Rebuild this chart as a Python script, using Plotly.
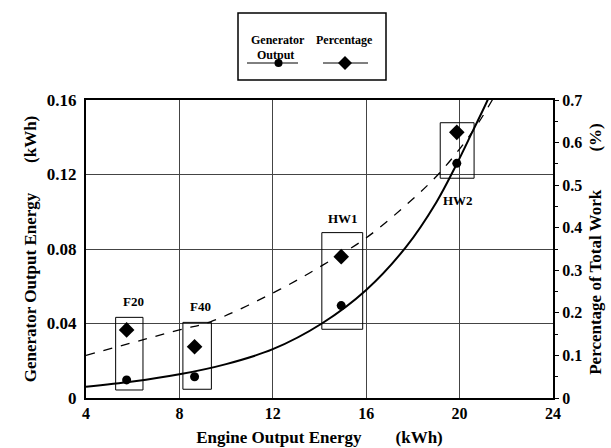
import plotly.graph_objects as go

# ---- data ----
groups = ["F20", "F40", "HW1", "HW2"]
engine_kwh = [5.74, 8.65, 14.93, 19.88]
generator_kwh = [0.0097, 0.0114, 0.0496, 0.126]
percentage = [0.160, 0.1205, 0.332, 0.624]

# trend lines
gen_fit_x = [4.0, 6.0, 8.0, 10.0, 12.0, 14.1, 16.0, 17.7, 19.0, 19.85, 20.55, 21.2, 21.6]
gen_fit_y = [0.0060, 0.0088, 0.0127, 0.0182, 0.0262, 0.0400, 0.0580, 0.0810, 0.1050, 0.1250, 0.1430, 0.1600, 0.1720]
pct_fit_x = [4.0, 8.0, 9.33, 12.3, 14.14, 15.97, 17.7, 19.13, 20.55, 21.4, 21.8]
pct_fit_y = [0.100, 0.160, 0.179, 0.255, 0.312, 0.375, 0.453, 0.528, 0.6255, 0.700, 0.740]

x_ticks = [4, 8, 12, 16, 20, 24]
y_ticks = [0, 0.04, 0.08, 0.12, 0.16]
y2_ticks = [0, 0.1, 0.2, 0.3, 0.4, 0.5, 0.6, 0.7]

# group boxes (x0, x1, y0, y1 on left axis) and label spots
boxes = [(5.27, 6.44, 0.0043, 0.0433), (8.15, 9.37, 0.0047, 0.0406),
         (14.10, 15.85, 0.0369, 0.0888), (19.17, 20.62, 0.118, 0.1478)]
label_pos = [(6.02, 0.0517), (8.9, 0.049), (15.0, 0.0965), (19.91, 0.1058)]

SERIF = "Liberation Serif"
W, H = 611, 448
ML, MR, MT, MB = 86, 58, 100, 50
PW, PH = W - ML - MR, H - MT - MB

def px(x):  # figure pixel -> paper (plot-area) fraction
    return (x - ML) / PW
def py(y):
    return (H - MB - y) / PH

fig = go.Figure()
fig.add_trace(go.Scatter(x=gen_fit_x, y=gen_fit_y, mode="lines", line=dict(color="black", width=2, shape="spline"),
                         showlegend=False, hoverinfo="skip"))
fig.add_trace(go.Scatter(x=pct_fit_x, y=pct_fit_y, mode="lines", yaxis="y2",
                         line=dict(color="black", width=1.3, dash="dash", shape="spline"),
                         showlegend=False, hoverinfo="skip"))
fig.add_trace(go.Scatter(x=engine_kwh, y=generator_kwh, mode="markers", name="Generator Output",
                         marker=dict(symbol="circle", size=9, color="black"), showlegend=False))
fig.add_trace(go.Scatter(x=engine_kwh, y=percentage, mode="markers", yaxis="y2", name="Percentage",
                         marker=dict(symbol="diamond", size=12, color="black"), showlegend=False))

shapes = []
for (x0, x1, y0, y1) in boxes:
    shapes.append(dict(type="rect", xref="x", yref="y", x0=x0, x1=x1, y0=y0, y1=y1,
                       line=dict(color="black", width=1)))
annotations = []
for g, (lx, ly) in zip(groups, label_pos):
    annotations.append(dict(x=lx, y=ly, xref="x", yref="y", text="<b>%s</b>" % g, showarrow=False,
                            font=dict(family=SERIF, size=13, color="black")))

# legend drawn by hand (box, titles, line samples)
shapes.append(dict(type="rect", xref="paper", yref="paper", x0=px(238), x1=px(386), y0=py(80), y1=py(13),
                   line=dict(color="black", width=1.5)))
shapes.append(dict(type="line", xref="paper", yref="paper", x0=px(247), x1=px(298), y0=py(63), y1=py(63),
                   line=dict(color="black", width=1)))
shapes.append(dict(type="line", xref="paper", yref="paper", x0=px(323), x1=px(368), y0=py(63), y1=py(63),
                   line=dict(color="black", width=1)))
shapes.append(dict(type="circle", xref="paper", yref="paper", x0=px(274.5), x1=px(282.5), y0=py(67), y1=py(59),
                   fillcolor="black", line=dict(color="black", width=0)))
shapes.append(dict(type="path", xref="paper", yref="paper",
                   path="M %f,%f L %f,%f L %f,%f L %f,%f Z" % (px(345), py(56), px(352), py(63), px(345), py(70), px(338), py(63)),
                   fillcolor="black", line=dict(color="black", width=0)))
legfont = dict(family=SERIF, size=12, color="black")
annotations.append(dict(x=px(278), y=py(31), xref="paper", yref="paper", text="<b>Generator</b>", showarrow=False, font=legfont))
annotations.append(dict(x=px(275), y=py(46), xref="paper", yref="paper", text="<b>Output</b>", showarrow=False, font=legfont))
annotations.append(dict(x=px(344), y=py(31), xref="paper", yref="paper", text="<b>Percentage</b>", showarrow=False, font=legfont))

tickfont = dict(family=SERIF, size=17, color="black", weight="bold")
tickfont2 = dict(family=SERIF, size=16, color="black", weight="bold")
titlefont = dict(family=SERIF, size=17, color="black", weight="bold")
NB = "\u00a0"

fig.update_layout(
    width=W, height=H,
    margin=dict(l=ML, r=MR, t=MT, b=MB),
    paper_bgcolor="white", plot_bgcolor="white",
    showlegend=False,
    shapes=shapes, annotations=annotations,
    xaxis=dict(range=[4, 24], tickvals=x_ticks, ticktext=[str(v) for v in x_ticks],
               showgrid=True, gridcolor="#444", gridwidth=1, automargin=False,
               showline=True, linecolor="black", linewidth=2, mirror=True,
               ticks="", tickfont=tickfont2, zeroline=False,
               title=dict(text="Engine Output Energy" + NB * 8 + "(kWh)", font=titlefont, standoff=10)),
    yaxis=dict(range=[0, 0.16], tickvals=y_ticks, ticktext=["0", "0.04", "0.08", "0.12", "0.16"],
               showgrid=True, gridcolor="#444", gridwidth=1, automargin=False,
               showline=True, linecolor="black", linewidth=2, mirror=True,
               ticks="", tickfont=tickfont, zeroline=False, ticklabelstandoff=4,
               title=dict(text="Generator Output Energy" + NB * 7 + "(kWh)", font=titlefont, standoff=6)),
    yaxis2=dict(range=[0, 0.7], tickvals=y2_ticks, ticktext=["0", "0.1", "0.2", "0.3", "0.4", "0.5", "0.6", "0.7"],
                overlaying="y", side="right", showgrid=False, zeroline=False, automargin=False,
                showline=True, linecolor="black", linewidth=2,
                ticks="outside", ticklen=4, tickcolor="black", tickwidth=1,
                minor=dict(tickvals=[0.05, 0.15, 0.25, 0.35, 0.45, 0.55, 0.65], ticks="outside", ticklen=3, tickcolor="black"),
                tickfont=tickfont2,
                title=dict(text="Percentage of Total Work" + NB * 9 + "(%)", font=titlefont, standoff=8)),
)

fig.write_html("out.html")
